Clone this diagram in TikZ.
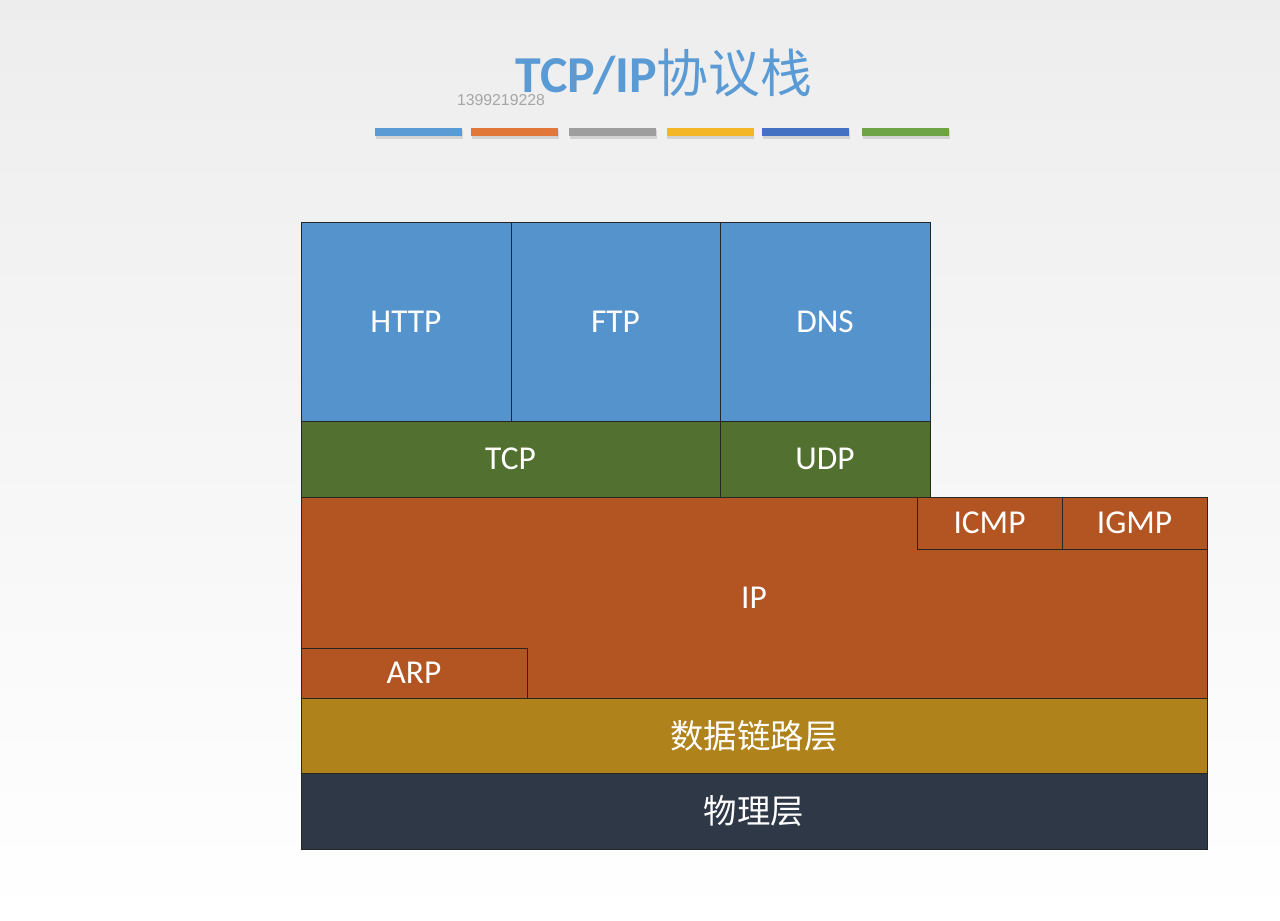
\documentclass[tikz,border=0pt]{standalone}
\usepackage{fontspec}
\setmainfont{Carlito}
\newfontfamily\cjk{Noto Sans CJK SC}
\newfontfamily\wmfont{Liberation Sans}
\usetikzlibrary{shadows}
\definecolor{appblue}{HTML}{5593CC}
\definecolor{tpgreen}{HTML}{52702F}
\definecolor{iporange}{HTML}{B35522}
\definecolor{dlgold}{HTML}{AF821B}
\definecolor{phydark}{HTML}{2E3847}
\definecolor{titleblue}{HTML}{5B9BD5}
\definecolor{barblue}{HTML}{5B9BD5}
\definecolor{barorange}{HTML}{E2773A}
\definecolor{bargray}{HTML}{9E9E9E}
\definecolor{baryellow}{HTML}{F4B526}
\definecolor{bardblue}{HTML}{4471C2}
\definecolor{bargreen}{HTML}{6EA445}
\tikzset{
  blk/.style={rectangle, draw=black!85, line width=0.5pt, inner sep=0pt, outer sep=0pt,
    text=white, font=\fontsize{19}{22}\selectfont},
  cjklabel/.style={font=\cjk\fontsize{19}{22}\selectfont},
  colorbar/.style={rectangle, inner sep=0pt, minimum width=1.74cm, minimum height=0.17cm,
    drop shadow={shadow xshift=0.3pt, shadow yshift=-1.5pt, opacity=0.25}}
}
\begin{document}
\begin{tikzpicture}
\shade[top color=black!7, bottom color=white] (0,0) rectangle (25.6,-18.42);
\useasboundingbox (0,0) rectangle (25.6,-18.42);

% title
\node[text=titleblue, font=\fontsize{29.5}{34}\selectfont, anchor=base, inner sep=0pt, text depth=0pt] (title) at (13.28,-1.86)
  {\textbf{TCP/IP}{\cjk 协议栈}};
\node[text=black!35, font=\wmfont\fontsize{9}{10}\selectfont, anchor=base, inner sep=0pt, text height=6.2pt] (wm) at (10.02,-2.12) {1399219228};

% colour bars
\node[colorbar, fill=barblue]   (b1) at (8.37,-2.64) {};
\node[colorbar, fill=barorange] (b2) at (10.29,-2.64) {};
\node[colorbar, fill=bargray]   (b3) at (12.25,-2.64) {};
\node[colorbar, fill=baryellow] (b4) at (14.20,-2.64) {};
\node[colorbar, fill=bardblue]  (b5) at (16.11,-2.64) {};
\node[colorbar, fill=bargreen]  (b6) at (18.11,-2.64) {};

% application layer
\node[blk, fill=appblue, minimum width=4.2cm, minimum height=3.98cm] (http) at (8.12,-6.43) {HTTP};
\node[blk, fill=appblue, minimum width=4.18cm, minimum height=3.98cm] (ftp) at (12.31,-6.43) {FTP};
\node[blk, fill=appblue, minimum width=4.2cm, minimum height=3.98cm] (dns) at (16.5,-6.43) {DNS};

% transport layer
\node[blk, fill=tpgreen, minimum width=8.38cm, minimum height=1.52cm] (tcp) at (10.21,-9.18) {TCP};
\node[blk, fill=tpgreen, minimum width=4.2cm, minimum height=1.52cm] (udp) at (16.5,-9.18) {UDP};

% network layer
\node[blk, fill=iporange, minimum width=18.12cm, minimum height=4.02cm] (ip) at (15.08,-11.95) {IP};
\node[blk, fill=iporange, minimum width=2.9cm, minimum height=1.04cm] (icmp) at (19.79,-10.46) {ICMP};
\node[blk, fill=iporange, minimum width=2.9cm, minimum height=1.04cm] (igmp) at (22.69,-10.46) {IGMP};
\node[blk, fill=iporange, minimum width=4.52cm, minimum height=1.0cm] (arp) at (8.28,-13.46) {ARP};

% data link and physical
\node[blk, cjklabel, fill=dlgold, minimum width=18.12cm, minimum height=1.5cm] (dl) at (15.08,-14.71) {数据链路层};
\node[blk, cjklabel, fill=phydark, minimum width=18.12cm, minimum height=1.52cm] (phy) at (15.08,-16.22) {物理层};
\end{tikzpicture}
\end{document}
